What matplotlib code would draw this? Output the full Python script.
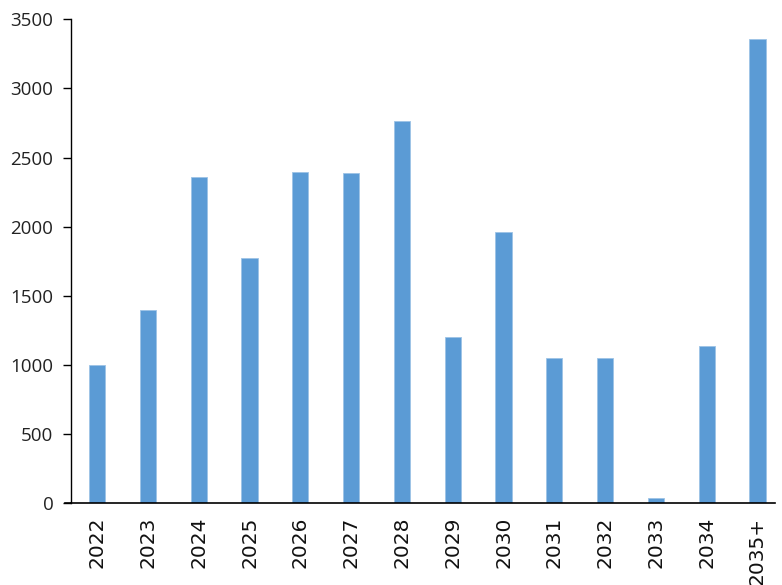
import numpy as np
import matplotlib.pyplot as plt

# values
years = ['2022', '2023', '2024', '2025', '2026', '2027', '2028',
         '2029', '2030', '2031', '2032', '2033', '2034', '2035+']
values = [1000, 1395, 2362, 1770, 2393, 2385, 2762,
          1200, 1960, 1050, 1050, 40, 1136, 3360]
yticks = [0, 500, 1000, 1500, 2000, 2500, 3000, 3500]

fig = plt.figure(figsize=(7.82, 5.85), dpi=100)
ax = fig.add_axes([0.0914, 0.140, 0.900, 0.827])

x = np.arange(len(years))
ax.bar(x, values, width=0.32, color='#5B9BD5', edgecolor='#9DC3E6', linewidth=0.6)

ax.set_ylim(0, 3500)
ax.set_xlim(-0.505, 13.35)
ax.set_yticks(yticks)
ax.set_yticklabels([str(t) for t in yticks], fontsize=13.5, family='Open Sans', color='#222222')
ax.set_xticks(x)
ax.set_xticklabels(years, rotation=90, fontsize=14.5, family='DejaVu Sans', color='#111111')

ax.spines['top'].set_visible(False)
ax.spines['right'].set_visible(False)
ax.spines['left'].set_linewidth(1.0)
ax.spines['bottom'].set_linewidth(1.2)
ax.tick_params(axis='y', length=6, width=1, pad=7)
ax.tick_params(axis='x', length=0, pad=10)
# the base line runs a little past the y axis, as in the original
ax.plot([-0.009, 0], [0, 0], transform=ax.transAxes, color='black', lw=1.2, clip_on=False)

fig.savefig('out.png', dpi=100)
